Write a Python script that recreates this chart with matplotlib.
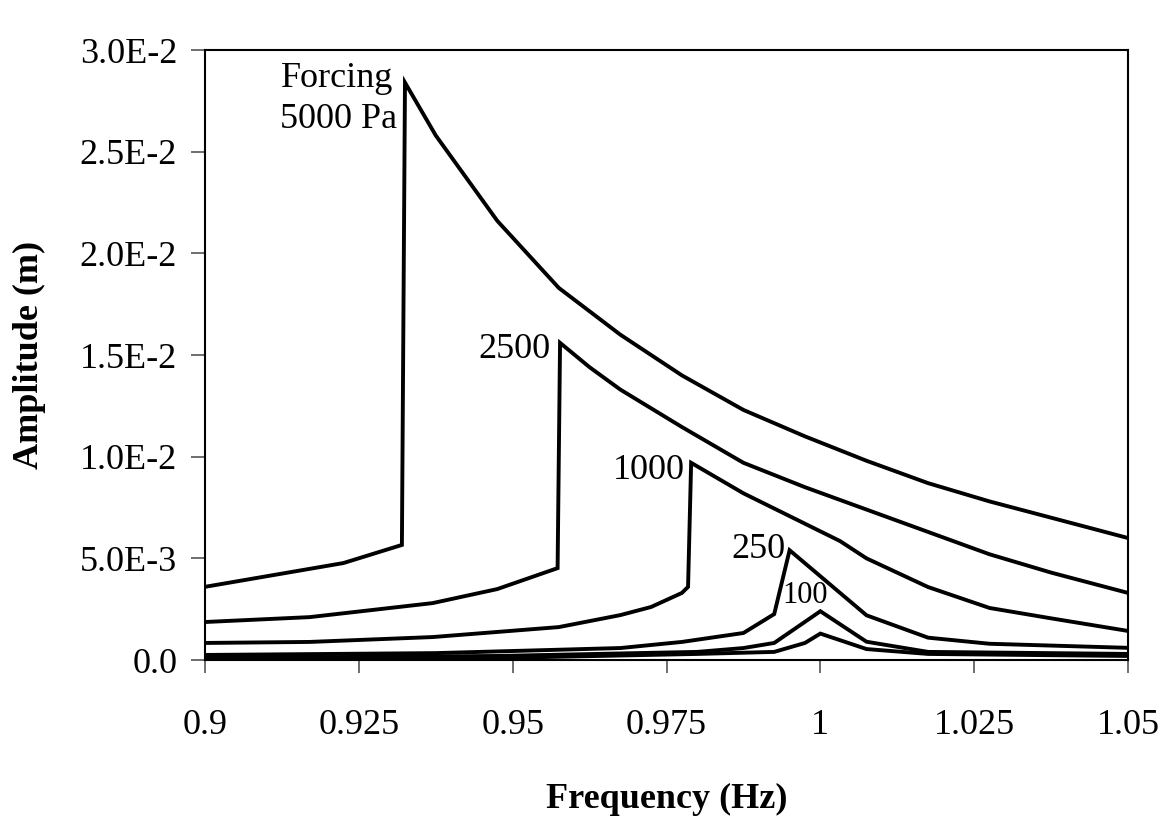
### Forced response curves: amplitude vs. frequency ###

import matplotlib
matplotlib.use('Agg')
import matplotlib.pyplot as plt

plt.rcParams['font.family'] = ['Liberation Serif', 'DejaVu Serif']

# 데이터 (forcing 별 응답 곡선)
freq_5000 = [0.9, 0.9225, 0.932, 0.9325, 0.9375, 0.9475, 0.9575, 0.9675, 0.9775,
             0.9875, 0.9975, 1.0075, 1.0175, 1.0275, 1.0375, 1.05]
amp_5000 = [0.0036, 0.00477, 0.00566, 0.0284, 0.0258, 0.0216, 0.0183, 0.0160, 0.0140,
            0.0123, 0.0110, 0.0098, 0.0087, 0.0078, 0.0070, 0.0060]

freq_2500 = [0.9, 0.917, 0.937, 0.9475, 0.9573, 0.9577, 0.9625, 0.9675, 0.9775,
             0.9875, 0.9975, 1.0075, 1.0175, 1.0275, 1.0375, 1.0475, 1.05]
amp_2500 = [0.00187, 0.00211, 0.0028, 0.00349, 0.00452, 0.0156, 0.0144, 0.0133, 0.01146,
            0.0097, 0.0085, 0.0074, 0.0063, 0.0052, 0.0043, 0.0035, 0.0033]

freq_1000 = [0.9, 0.917, 0.937, 0.9575, 0.9675, 0.9725, 0.9775, 0.9785, 0.979,
             0.9875, 1.0032, 1.0075, 1.0175, 1.0275, 1.0375, 1.05]
amp_1000 = [0.00084, 0.00089, 0.00113, 0.00162, 0.00221, 0.00261, 0.0033, 0.0036, 0.0097,
            0.0082, 0.00585, 0.0050, 0.00359, 0.00256, 0.00205, 0.00143]

freq_250 = [0.9, 0.9375, 0.9675, 0.9775, 0.9875, 0.9925, 0.995, 1.0075, 1.0175, 1.0275, 1.05]
amp_250 = [0.00025, 0.00034, 0.00059, 0.00089, 0.00133, 0.00226, 0.0054, 0.0022, 0.0011,
           0.0008, 0.0006]

freq_100 = [0.9, 0.9475, 0.98, 0.9875, 0.9925, 1.0, 1.0075, 1.0175, 1.05]
amp_100 = [0.0001, 0.0002, 0.0004, 0.00059, 0.00084, 0.0024, 0.0009, 0.0004, 0.0003]

freq_50 = [0.9, 0.9475, 0.98, 0.9925, 0.9975, 1.0, 1.0075, 1.0175, 1.05]
amp_50 = [0.00005, 0.0001, 0.0003, 0.0004, 0.00084, 0.0013, 0.00054, 0.0003, 0.0002]

x_ticks = [0.9, 0.925, 0.95, 0.975, 1.0, 1.025, 1.05]
x_tick_labels = ['0.9', '0.925', '0.95', '0.975', '1', '1.025', '1.05']
y_ticks = [0.0, 0.005, 0.01, 0.015, 0.02, 0.025, 0.03]
y_tick_labels = ['0.0', '5.0E-3', '1.0E-2', '1.5E-2', '2.0E-2', '2.5E-2', '3.0E-2']

fig = plt.figure(figsize=(11.68, 8.19), dpi=100)
ax = fig.add_axes([0.1755, 0.1941, 0.7903, 0.7448])

for f, a in [(freq_5000, amp_5000), (freq_2500, amp_2500), (freq_1000, amp_1000),
             (freq_250, amp_250), (freq_100, amp_100), (freq_50, amp_50)]:
    ax.plot(f, a, color='black', linewidth=2.8, solid_joinstyle='miter')

# 곡선 라벨
ax.text(0.9306, 0.0286, 'Forcing', fontsize=26, ha='right', va='center')
ax.text(0.9312, 0.02656, '5000 Pa', fontsize=26, ha='right', va='center')
ax.text(0.9562, 0.01525, '2500', fontsize=26, ha='right', va='center')
ax.text(0.9780, 0.00934, '1000', fontsize=26, ha='right', va='center')
ax.text(0.9943, 0.00546, '250', fontsize=26, ha='right', va='center')
ax.text(0.9975, 0.00315, '100', fontsize=22, ha='center', va='center')

ax.set_xlim(0.9, 1.05)
ax.set_ylim(0.0, 0.03)
ax.set_xticks(x_ticks)
ax.set_xticklabels(x_tick_labels)
ax.set_yticks(y_ticks)
ax.set_yticklabels(y_tick_labels)
ax.tick_params(axis='x', direction='out', length=9, width=1.2, color='#555555',
               pad=26, labelsize=26)
ax.tick_params(axis='y', direction='out', length=10, width=1.2, color='#555555',
               pad=10, labelsize=26)
for s in ax.spines.values():
    s.set_linewidth(1.5)
    s.set_color('black')

ax.set_xlabel('Frequency (Hz)', fontsize=26, fontweight='bold', labelpad=30)
ax.set_ylabel('Amplitude (m)', fontsize=26, fontweight='bold', labelpad=24)

fig.savefig('out.png', dpi=100)
